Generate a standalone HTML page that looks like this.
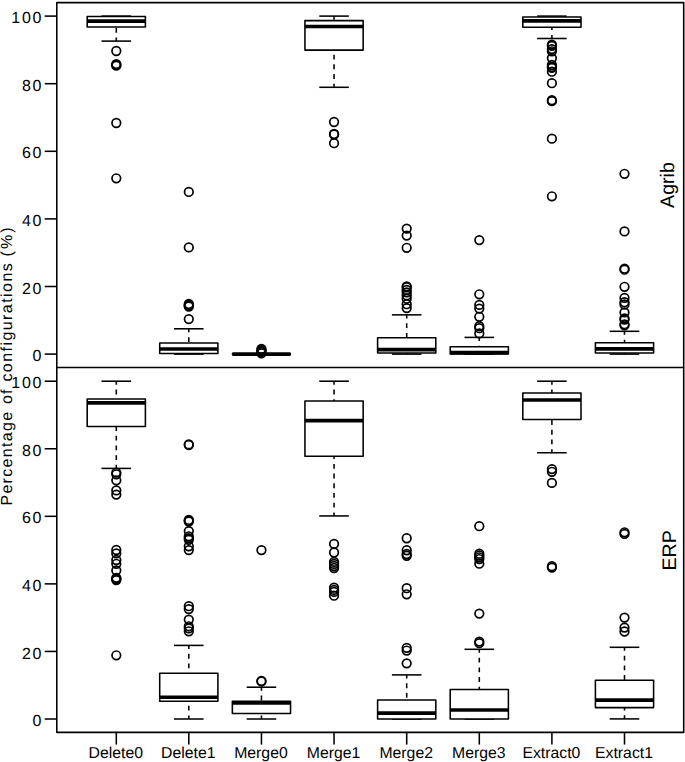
<!DOCTYPE html>
<html><head><meta charset="utf-8"><title>Boxplot</title>
<style>html,body{margin:0;padding:0;background:#fff}svg{display:block}text{font-family:"Liberation Sans",sans-serif;fill:#000;text-rendering:geometricPrecision}</style>
</head><body>
<svg width="685" height="762" viewBox="0 0 685 762">
<rect x="0" y="0" width="685" height="762" fill="#fff"/>
<g fill="none" stroke="#000" stroke-width="1.55">
<line x1="116.3" y1="16.1" x2="116.3" y2="16.5" stroke-dasharray="4.85 4.85" stroke-dashoffset="1.3"/>
<line x1="116.3" y1="41.1" x2="116.3" y2="27.0" stroke-dasharray="4.85 4.85" stroke-dashoffset="1.3"/>
<line x1="101.5" y1="16.1" x2="131.1" y2="16.1"/>
<line x1="101.5" y1="41.1" x2="131.1" y2="41.1"/>
<rect x="87.20" y="16.5" width="58.2" height="10.50" fill="#fff" stroke-linejoin="round"/>
<line x1="87.20" y1="21.1" x2="145.40" y2="21.1" stroke-width="3.7"/>
<circle cx="116.3" cy="51.0" r="4.3" stroke-width="1.7"/>
<circle cx="116.3" cy="64.1" r="4.3" stroke-width="1.7"/>
<circle cx="116.3" cy="64.9" r="4.3" stroke-width="1.7"/>
<circle cx="116.3" cy="65.7" r="4.3" stroke-width="1.7"/>
<circle cx="116.3" cy="123.0" r="4.3" stroke-width="1.7"/>
<circle cx="116.3" cy="178.3" r="4.3" stroke-width="1.7"/>
<line x1="188.8" y1="328.8" x2="188.8" y2="342.9" stroke-dasharray="4.85 4.85" stroke-dashoffset="1.3"/>
<line x1="188.8" y1="354.1" x2="188.8" y2="353.5" stroke-dasharray="4.85 4.85" stroke-dashoffset="1.3"/>
<line x1="174.0" y1="328.8" x2="203.60000000000002" y2="328.8"/>
<line x1="174.0" y1="354.1" x2="203.60000000000002" y2="354.1"/>
<rect x="159.70" y="342.9" width="58.2" height="10.60" fill="#fff" stroke-linejoin="round"/>
<line x1="159.70" y1="349.0" x2="217.90" y2="349.0" stroke-width="3.7"/>
<circle cx="188.8" cy="191.95" r="4.3" stroke-width="1.7"/>
<circle cx="188.8" cy="247.4" r="4.3" stroke-width="1.7"/>
<circle cx="188.8" cy="304.0" r="4.3" stroke-width="1.7"/>
<circle cx="188.8" cy="305.0" r="4.3" stroke-width="1.7"/>
<circle cx="188.8" cy="305.8" r="4.3" stroke-width="1.7"/>
<circle cx="188.8" cy="306.5" r="4.3" stroke-width="1.7"/>
<circle cx="188.8" cy="319.1" r="4.3" stroke-width="1.7"/>
<line x1="246.64999999999998" y1="354.1" x2="276.25" y2="354.1"/>
<line x1="246.64999999999998" y1="354.1" x2="276.25" y2="354.1"/>
<rect x="232.35" y="354.1" width="58.2" height="0.01" fill="#fff" stroke-linejoin="round"/>
<line x1="232.35" y1="354.1" x2="290.55" y2="354.1" stroke-width="3.7"/>
<circle cx="261.45" cy="348.9" r="4.3" stroke-width="1.7"/>
<circle cx="261.45" cy="350.0" r="4.3" stroke-width="1.7"/>
<circle cx="261.45" cy="351.2" r="4.3" stroke-width="1.7"/>
<circle cx="261.45" cy="352.3" r="4.3" stroke-width="1.7"/>
<circle cx="261.45" cy="353.3" r="4.3" stroke-width="1.7"/>
<line x1="334.05" y1="16.1" x2="334.05" y2="20.6" stroke-dasharray="4.85 4.85" stroke-dashoffset="1.3"/>
<line x1="334.05" y1="87.3" x2="334.05" y2="50.1" stroke-dasharray="4.85 4.85" stroke-dashoffset="1.3"/>
<line x1="319.25" y1="16.1" x2="348.85" y2="16.1"/>
<line x1="319.25" y1="87.3" x2="348.85" y2="87.3"/>
<rect x="304.95" y="20.6" width="58.2" height="29.50" fill="#fff" stroke-linejoin="round"/>
<line x1="304.95" y1="26.5" x2="363.15" y2="26.5" stroke-width="3.7"/>
<circle cx="334.05" cy="122.0" r="4.3" stroke-width="1.7"/>
<circle cx="334.05" cy="134.0" r="4.3" stroke-width="1.7"/>
<circle cx="334.05" cy="134.5" r="4.3" stroke-width="1.7"/>
<circle cx="334.05" cy="143.2" r="4.3" stroke-width="1.7"/>
<line x1="406.7" y1="314.85" x2="406.7" y2="337.7" stroke-dasharray="4.85 4.85" stroke-dashoffset="1.3"/>
<line x1="406.7" y1="354.1" x2="406.7" y2="353.0" stroke-dasharray="4.85 4.85" stroke-dashoffset="1.3"/>
<line x1="391.9" y1="314.85" x2="421.5" y2="314.85"/>
<line x1="391.9" y1="354.1" x2="421.5" y2="354.1"/>
<rect x="377.60" y="337.7" width="58.2" height="15.30" fill="#fff" stroke-linejoin="round"/>
<line x1="377.60" y1="349.65" x2="435.80" y2="349.65" stroke-width="3.7"/>
<circle cx="406.7" cy="228.6" r="4.3" stroke-width="1.7"/>
<circle cx="406.7" cy="235.6" r="4.3" stroke-width="1.7"/>
<circle cx="406.7" cy="247.8" r="4.3" stroke-width="1.7"/>
<circle cx="406.7" cy="286.3" r="4.3" stroke-width="1.7"/>
<circle cx="406.7" cy="287.3" r="4.3" stroke-width="1.7"/>
<circle cx="406.7" cy="289.9" r="4.3" stroke-width="1.7"/>
<circle cx="406.7" cy="292.4" r="4.3" stroke-width="1.7"/>
<circle cx="406.7" cy="295.4" r="4.3" stroke-width="1.7"/>
<circle cx="406.7" cy="298.7" r="4.3" stroke-width="1.7"/>
<circle cx="406.7" cy="304.2" r="4.3" stroke-width="1.7"/>
<circle cx="406.7" cy="308.1" r="4.3" stroke-width="1.7"/>
<line x1="479.3" y1="337.4" x2="479.3" y2="346.8" stroke-dasharray="4.85 4.85" stroke-dashoffset="1.3"/>
<line x1="464.5" y1="337.4" x2="494.1" y2="337.4"/>
<line x1="464.5" y1="354.1" x2="494.1" y2="354.1"/>
<rect x="450.20" y="346.8" width="58.2" height="7.20" fill="#fff" stroke-linejoin="round"/>
<line x1="450.20" y1="352.6" x2="508.40" y2="352.6" stroke-width="3.7"/>
<circle cx="479.3" cy="240.1" r="4.3" stroke-width="1.7"/>
<circle cx="479.3" cy="294.3" r="4.3" stroke-width="1.7"/>
<circle cx="479.3" cy="304.9" r="4.3" stroke-width="1.7"/>
<circle cx="479.3" cy="308.6" r="4.3" stroke-width="1.7"/>
<circle cx="479.3" cy="316.8" r="4.3" stroke-width="1.7"/>
<circle cx="479.3" cy="326.2" r="4.3" stroke-width="1.7"/>
<circle cx="479.3" cy="328.2" r="4.3" stroke-width="1.7"/>
<circle cx="479.3" cy="333.4" r="4.3" stroke-width="1.7"/>
<line x1="551.9" y1="16.1" x2="551.9" y2="16.9" stroke-dasharray="4.85 4.85" stroke-dashoffset="1.3"/>
<line x1="551.9" y1="38.5" x2="551.9" y2="27.2" stroke-dasharray="4.85 4.85" stroke-dashoffset="1.3"/>
<line x1="537.1" y1="16.1" x2="566.6999999999999" y2="16.1"/>
<line x1="537.1" y1="38.5" x2="566.6999999999999" y2="38.5"/>
<rect x="522.80" y="16.9" width="58.2" height="10.30" fill="#fff" stroke-linejoin="round"/>
<line x1="522.80" y1="20.9" x2="581.00" y2="20.9" stroke-width="3.7"/>
<circle cx="551.9" cy="44.6" r="4.3" stroke-width="1.7"/>
<circle cx="551.9" cy="45.9" r="4.3" stroke-width="1.7"/>
<circle cx="551.9" cy="49.1" r="4.3" stroke-width="1.7"/>
<circle cx="551.9" cy="51.3" r="4.3" stroke-width="1.7"/>
<circle cx="551.9" cy="58.15" r="4.3" stroke-width="1.7"/>
<circle cx="551.9" cy="65.0" r="4.3" stroke-width="1.7"/>
<circle cx="551.9" cy="67.0" r="4.3" stroke-width="1.7"/>
<circle cx="551.9" cy="67.9" r="4.3" stroke-width="1.7"/>
<circle cx="551.9" cy="71.7" r="4.3" stroke-width="1.7"/>
<circle cx="551.9" cy="83.2" r="4.3" stroke-width="1.7"/>
<circle cx="551.9" cy="100.2" r="4.3" stroke-width="1.7"/>
<circle cx="551.9" cy="101.2" r="4.3" stroke-width="1.7"/>
<circle cx="551.9" cy="138.7" r="4.3" stroke-width="1.7"/>
<circle cx="551.9" cy="196.3" r="4.3" stroke-width="1.7"/>
<line x1="624.5" y1="331.3" x2="624.5" y2="342.8" stroke-dasharray="4.85 4.85" stroke-dashoffset="1.3"/>
<line x1="624.5" y1="354.1" x2="624.5" y2="352.9" stroke-dasharray="4.85 4.85" stroke-dashoffset="1.3"/>
<line x1="609.7" y1="331.3" x2="639.3" y2="331.3"/>
<line x1="609.7" y1="354.1" x2="639.3" y2="354.1"/>
<rect x="595.40" y="342.8" width="58.2" height="10.10" fill="#fff" stroke-linejoin="round"/>
<line x1="595.40" y1="348.8" x2="653.60" y2="348.8" stroke-width="3.7"/>
<circle cx="624.5" cy="173.8" r="4.3" stroke-width="1.7"/>
<circle cx="624.5" cy="231.4" r="4.3" stroke-width="1.7"/>
<circle cx="624.5" cy="268.7" r="4.3" stroke-width="1.7"/>
<circle cx="624.5" cy="269.7" r="4.3" stroke-width="1.7"/>
<circle cx="624.5" cy="286.8" r="4.3" stroke-width="1.7"/>
<circle cx="624.5" cy="297.9" r="4.3" stroke-width="1.7"/>
<circle cx="624.5" cy="302.2" r="4.3" stroke-width="1.7"/>
<circle cx="624.5" cy="304.5" r="4.3" stroke-width="1.7"/>
<circle cx="624.5" cy="312.4" r="4.3" stroke-width="1.7"/>
<circle cx="624.5" cy="318.4" r="4.3" stroke-width="1.7"/>
<circle cx="624.5" cy="319.6" r="4.3" stroke-width="1.7"/>
<circle cx="624.5" cy="324.3" r="4.3" stroke-width="1.7"/>
<circle cx="624.5" cy="325.3" r="4.3" stroke-width="1.7"/>
<line x1="116.3" y1="381.2" x2="116.3" y2="398.9" stroke-dasharray="4.85 4.85" stroke-dashoffset="1.3"/>
<line x1="116.3" y1="468.4" x2="116.3" y2="426.55" stroke-dasharray="4.85 4.85" stroke-dashoffset="1.3"/>
<line x1="101.5" y1="381.2" x2="131.1" y2="381.2"/>
<line x1="101.5" y1="468.4" x2="131.1" y2="468.4"/>
<rect x="87.20" y="398.9" width="58.2" height="27.65" fill="#fff" stroke-linejoin="round"/>
<line x1="87.20" y1="402.9" x2="145.40" y2="402.9" stroke-width="3.7"/>
<circle cx="116.3" cy="472.6" r="4.3" stroke-width="1.7"/>
<circle cx="116.3" cy="474.3" r="4.3" stroke-width="1.7"/>
<circle cx="116.3" cy="480.3" r="4.3" stroke-width="1.7"/>
<circle cx="116.3" cy="490.4" r="4.3" stroke-width="1.7"/>
<circle cx="116.3" cy="494.6" r="4.3" stroke-width="1.7"/>
<circle cx="116.3" cy="550.0" r="4.3" stroke-width="1.7"/>
<circle cx="116.3" cy="553.4" r="4.3" stroke-width="1.7"/>
<circle cx="116.3" cy="560.0" r="4.3" stroke-width="1.7"/>
<circle cx="116.3" cy="563.8" r="4.3" stroke-width="1.7"/>
<circle cx="116.3" cy="570.4" r="4.3" stroke-width="1.7"/>
<circle cx="116.3" cy="577.8" r="4.3" stroke-width="1.7"/>
<circle cx="116.3" cy="579.0" r="4.3" stroke-width="1.7"/>
<circle cx="116.3" cy="580.1" r="4.3" stroke-width="1.7"/>
<circle cx="116.3" cy="655.3" r="4.3" stroke-width="1.7"/>
<line x1="188.8" y1="645.4" x2="188.8" y2="673.3" stroke-dasharray="4.85 4.85" stroke-dashoffset="1.3"/>
<line x1="188.8" y1="719.0" x2="188.8" y2="701.2" stroke-dasharray="4.85 4.85" stroke-dashoffset="1.3"/>
<line x1="174.0" y1="645.4" x2="203.60000000000002" y2="645.4"/>
<line x1="174.0" y1="719.0" x2="203.60000000000002" y2="719.0"/>
<rect x="159.70" y="673.3" width="58.2" height="27.90" fill="#fff" stroke-linejoin="round"/>
<line x1="159.70" y1="697.25" x2="217.90" y2="697.25" stroke-width="3.7"/>
<circle cx="188.8" cy="444.4" r="4.3" stroke-width="1.7"/>
<circle cx="188.8" cy="445.0" r="4.3" stroke-width="1.7"/>
<circle cx="188.8" cy="520.0" r="4.3" stroke-width="1.7"/>
<circle cx="188.8" cy="520.7" r="4.3" stroke-width="1.7"/>
<circle cx="188.8" cy="521.5" r="4.3" stroke-width="1.7"/>
<circle cx="188.8" cy="531.1" r="4.3" stroke-width="1.7"/>
<circle cx="188.8" cy="536.3" r="4.3" stroke-width="1.7"/>
<circle cx="188.8" cy="538.1" r="4.3" stroke-width="1.7"/>
<circle cx="188.8" cy="539.8" r="4.3" stroke-width="1.7"/>
<circle cx="188.8" cy="546.3" r="4.3" stroke-width="1.7"/>
<circle cx="188.8" cy="550.1" r="4.3" stroke-width="1.7"/>
<circle cx="188.8" cy="606.2" r="4.3" stroke-width="1.7"/>
<circle cx="188.8" cy="609.1" r="4.3" stroke-width="1.7"/>
<circle cx="188.8" cy="619.6" r="4.3" stroke-width="1.7"/>
<circle cx="188.8" cy="626.3" r="4.3" stroke-width="1.7"/>
<circle cx="188.8" cy="628.4" r="4.3" stroke-width="1.7"/>
<circle cx="188.8" cy="631.3" r="4.3" stroke-width="1.7"/>
<line x1="261.45" y1="687.2" x2="261.45" y2="701.2" stroke-dasharray="4.85 4.85" stroke-dashoffset="1.3"/>
<line x1="261.45" y1="719.0" x2="261.45" y2="713.4" stroke-dasharray="4.85 4.85" stroke-dashoffset="1.3"/>
<line x1="246.64999999999998" y1="687.2" x2="276.25" y2="687.2"/>
<line x1="246.64999999999998" y1="719.0" x2="276.25" y2="719.0"/>
<rect x="232.35" y="701.2" width="58.2" height="12.20" fill="#fff" stroke-linejoin="round"/>
<line x1="232.35" y1="702.9" x2="290.55" y2="702.9" stroke-width="3.7"/>
<circle cx="261.45" cy="550.1" r="4.3" stroke-width="1.7"/>
<circle cx="261.45" cy="681.0" r="4.3" stroke-width="1.7"/>
<circle cx="261.45" cy="681.4" r="4.3" stroke-width="1.7"/>
<line x1="334.05" y1="381.2" x2="334.05" y2="400.9" stroke-dasharray="4.85 4.85" stroke-dashoffset="1.3"/>
<line x1="334.05" y1="515.95" x2="334.05" y2="456.3" stroke-dasharray="4.85 4.85" stroke-dashoffset="1.3"/>
<line x1="319.25" y1="381.2" x2="348.85" y2="381.2"/>
<line x1="319.25" y1="515.95" x2="348.85" y2="515.95"/>
<rect x="304.95" y="400.9" width="58.2" height="55.40" fill="#fff" stroke-linejoin="round"/>
<line x1="304.95" y1="420.6" x2="363.15" y2="420.6" stroke-width="3.7"/>
<circle cx="334.05" cy="543.9" r="4.3" stroke-width="1.7"/>
<circle cx="334.05" cy="552.5" r="4.3" stroke-width="1.7"/>
<circle cx="334.05" cy="561.9" r="4.3" stroke-width="1.7"/>
<circle cx="334.05" cy="563.9" r="4.3" stroke-width="1.7"/>
<circle cx="334.05" cy="566.0" r="4.3" stroke-width="1.7"/>
<circle cx="334.05" cy="568.0" r="4.3" stroke-width="1.7"/>
<circle cx="334.05" cy="587.7" r="4.3" stroke-width="1.7"/>
<circle cx="334.05" cy="589.9" r="4.3" stroke-width="1.7"/>
<circle cx="334.05" cy="591.9" r="4.3" stroke-width="1.7"/>
<circle cx="334.05" cy="595.7" r="4.3" stroke-width="1.7"/>
<line x1="406.7" y1="674.9" x2="406.7" y2="699.9" stroke-dasharray="4.85 4.85" stroke-dashoffset="1.3"/>
<line x1="391.9" y1="674.9" x2="421.5" y2="674.9"/>
<line x1="391.9" y1="719.0" x2="421.5" y2="719.0"/>
<rect x="377.60" y="699.9" width="58.2" height="19.10" fill="#fff" stroke-linejoin="round"/>
<line x1="377.60" y1="713.1" x2="435.80" y2="713.1" stroke-width="3.7"/>
<circle cx="406.7" cy="538.25" r="4.3" stroke-width="1.7"/>
<circle cx="406.7" cy="550.25" r="4.3" stroke-width="1.7"/>
<circle cx="406.7" cy="554.0" r="4.3" stroke-width="1.7"/>
<circle cx="406.7" cy="555.75" r="4.3" stroke-width="1.7"/>
<circle cx="406.7" cy="588.2" r="4.3" stroke-width="1.7"/>
<circle cx="406.7" cy="594.3" r="4.3" stroke-width="1.7"/>
<circle cx="406.7" cy="647.85" r="4.3" stroke-width="1.7"/>
<circle cx="406.7" cy="650.55" r="4.3" stroke-width="1.7"/>
<circle cx="406.7" cy="663.35" r="4.3" stroke-width="1.7"/>
<line x1="479.3" y1="649.3" x2="479.3" y2="689.4" stroke-dasharray="4.85 4.85" stroke-dashoffset="1.3"/>
<line x1="464.5" y1="649.3" x2="494.1" y2="649.3"/>
<line x1="464.5" y1="719.0" x2="494.1" y2="719.0"/>
<rect x="450.20" y="689.4" width="58.2" height="29.50" fill="#fff" stroke-linejoin="round"/>
<line x1="450.20" y1="710.0" x2="508.40" y2="710.0" stroke-width="3.7"/>
<circle cx="479.3" cy="526.2" r="4.3" stroke-width="1.7"/>
<circle cx="479.3" cy="553.7" r="4.3" stroke-width="1.7"/>
<circle cx="479.3" cy="555.5" r="4.3" stroke-width="1.7"/>
<circle cx="479.3" cy="557.3" r="4.3" stroke-width="1.7"/>
<circle cx="479.3" cy="559.05" r="4.3" stroke-width="1.7"/>
<circle cx="479.3" cy="563.7" r="4.3" stroke-width="1.7"/>
<circle cx="479.3" cy="613.6" r="4.3" stroke-width="1.7"/>
<circle cx="479.3" cy="641.6" r="4.3" stroke-width="1.7"/>
<circle cx="479.3" cy="643.2" r="4.3" stroke-width="1.7"/>
<line x1="551.9" y1="381.2" x2="551.9" y2="393.0" stroke-dasharray="4.85 4.85" stroke-dashoffset="1.3"/>
<line x1="551.9" y1="452.75" x2="551.9" y2="419.5" stroke-dasharray="4.85 4.85" stroke-dashoffset="1.3"/>
<line x1="537.1" y1="381.2" x2="566.6999999999999" y2="381.2"/>
<line x1="537.1" y1="452.75" x2="566.6999999999999" y2="452.75"/>
<rect x="522.80" y="393.0" width="58.2" height="26.50" fill="#fff" stroke-linejoin="round"/>
<line x1="522.80" y1="400.0" x2="581.00" y2="400.0" stroke-width="3.7"/>
<circle cx="551.9" cy="469.1" r="4.3" stroke-width="1.7"/>
<circle cx="551.9" cy="471.8" r="4.3" stroke-width="1.7"/>
<circle cx="551.9" cy="482.9" r="4.3" stroke-width="1.7"/>
<circle cx="551.9" cy="566.2" r="4.3" stroke-width="1.7"/>
<circle cx="551.9" cy="567.6" r="4.3" stroke-width="1.7"/>
<line x1="624.5" y1="647.3" x2="624.5" y2="680.3" stroke-dasharray="4.85 4.85" stroke-dashoffset="1.3"/>
<line x1="624.5" y1="718.9" x2="624.5" y2="707.6" stroke-dasharray="4.85 4.85" stroke-dashoffset="1.3"/>
<line x1="609.7" y1="647.3" x2="639.3" y2="647.3"/>
<line x1="609.7" y1="718.9" x2="639.3" y2="718.9"/>
<rect x="595.40" y="680.3" width="58.2" height="27.30" fill="#fff" stroke-linejoin="round"/>
<line x1="595.40" y1="700.1" x2="653.60" y2="700.1" stroke-width="3.7"/>
<circle cx="624.5" cy="532.3" r="4.3" stroke-width="1.7"/>
<circle cx="624.5" cy="533.9" r="4.3" stroke-width="1.7"/>
<circle cx="624.5" cy="617.6" r="4.3" stroke-width="1.7"/>
<circle cx="624.5" cy="627.6" r="4.3" stroke-width="1.7"/>
<circle cx="624.5" cy="631.5" r="4.3" stroke-width="1.7"/>
<rect x="56.8" y="2.6" width="626.9000000000001" height="729.8" stroke-linejoin="round"/>
<line x1="56.8" y1="367.55" x2="683.7" y2="367.55"/>
<line x1="44.7" y1="354.10" x2="56.8" y2="354.10"/>
<line x1="44.7" y1="719.00" x2="56.8" y2="719.00"/>
<line x1="44.7" y1="286.50" x2="56.8" y2="286.50"/>
<line x1="44.7" y1="651.44" x2="56.8" y2="651.44"/>
<line x1="44.7" y1="218.90" x2="56.8" y2="218.90"/>
<line x1="44.7" y1="583.88" x2="56.8" y2="583.88"/>
<line x1="44.7" y1="151.30" x2="56.8" y2="151.30"/>
<line x1="44.7" y1="516.32" x2="56.8" y2="516.32"/>
<line x1="44.7" y1="83.70" x2="56.8" y2="83.70"/>
<line x1="44.7" y1="448.76" x2="56.8" y2="448.76"/>
<line x1="44.7" y1="16.10" x2="56.8" y2="16.10"/>
<line x1="44.7" y1="381.20" x2="56.8" y2="381.20"/>
<line x1="116.3" y1="732.4" x2="116.3" y2="744.6"/>
<line x1="188.8" y1="732.4" x2="188.8" y2="744.6"/>
<line x1="261.45" y1="732.4" x2="261.45" y2="744.6"/>
<line x1="334.05" y1="732.4" x2="334.05" y2="744.6"/>
<line x1="406.7" y1="732.4" x2="406.7" y2="744.6"/>
<line x1="479.3" y1="732.4" x2="479.3" y2="744.6"/>
<line x1="551.9" y1="732.4" x2="551.9" y2="744.6"/>
<line x1="624.5" y1="732.4" x2="624.5" y2="744.6"/>
</g>
<g font-size="16" text-anchor="end" letter-spacing="1.7">
<text x="43.1" y="361.20">0</text>
<text x="43.1" y="726.10">0</text>
<text x="43.1" y="293.60">20</text>
<text x="43.1" y="658.54">20</text>
<text x="43.1" y="226.00">40</text>
<text x="43.1" y="590.98">40</text>
<text x="43.1" y="158.40">60</text>
<text x="43.1" y="523.42">60</text>
<text x="43.1" y="90.80">80</text>
<text x="43.1" y="455.86">80</text>
<text x="43.1" y="23.20">100</text>
<text x="43.1" y="388.30">100</text>
</g>
<g font-size="15.8" text-anchor="middle">
<text x="115.8" y="758.0">Delete0</text>
<text x="188.3" y="758.0">Delete1</text>
<text x="260.95" y="758.0">Merge0</text>
<text x="333.55" y="758.0">Merge1</text>
<text x="406.2" y="758.0">Merge2</text>
<text x="478.8" y="758.0">Merge3</text>
<text x="551.4" y="758.0">Extract0</text>
<text x="624.0" y="758.0">Extract1</text>
</g>
<g font-size="16" transform="translate(11.8,504.4) rotate(-90)">
<text x="-1.2" letter-spacing="1.31">Percentage</text>
<text x="100.3" letter-spacing="1.3">of</text>
<text x="122.8" letter-spacing="1.44">configurations</text>
<text x="248.0" letter-spacing="2.0">(%)</text>
</g>
<text font-size="19.6" text-anchor="middle" transform="translate(674.0,185) rotate(-90)">Agrib</text>
<text font-size="19.6" text-anchor="middle" transform="translate(676.0,550.4) rotate(-90)">ERP</text>
</svg></body></html>
